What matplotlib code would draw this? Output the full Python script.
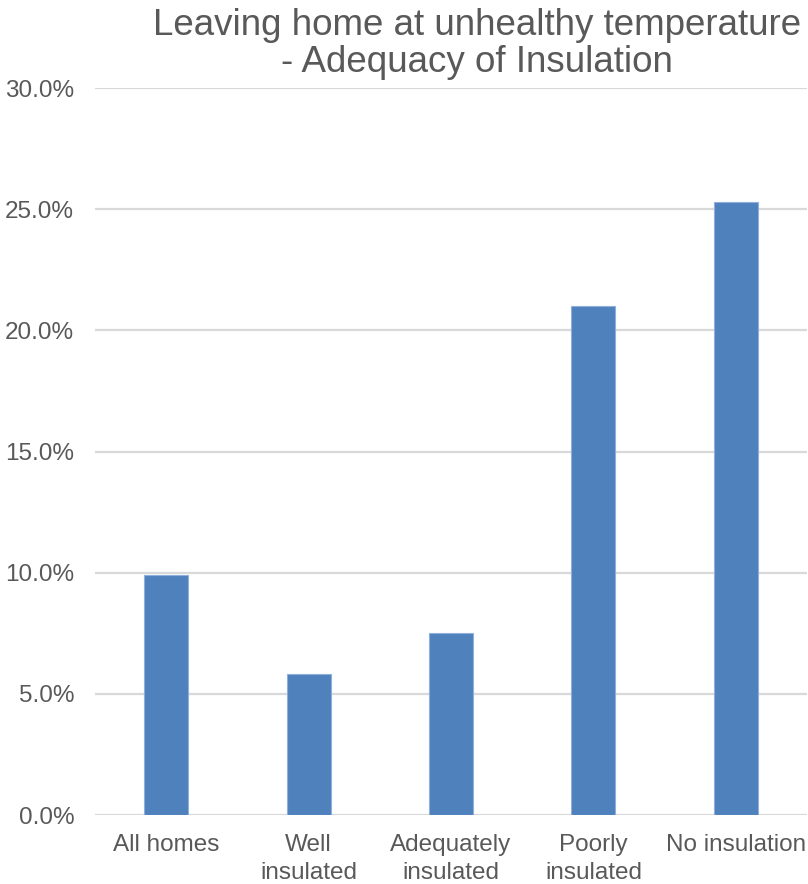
import matplotlib
matplotlib.use("Agg")
import matplotlib.pyplot as plt
from matplotlib.ticker import FuncFormatter, MultipleLocator

plt.rcParams['font.family'] = ['Liberation Sans', 'DejaVu Sans']

categories = ["All homes", "Well\ninsulated", "Adequately\ninsulated", "Poorly\ninsulated", "No insulation"]
values = [9.9, 5.8, 7.5, 21.0, 25.3]
title = "Leaving home at unhealthy temperature\n- Adequacy of Insulation"

text_color = "#595959"
bar_color = "#4f81bd"
grid_color = "#d9d9d9"

fig = plt.figure(figsize=(8.08, 8.84), dpi=100)
ax = fig.add_axes([95 / 808, 1 - 815 / 884, 712 / 808, (815 - 88) / 884])

x = list(range(len(categories)))
ax.bar(x, values, width=0.31, color=bar_color, edgecolor="#8fb0dc", linewidth=0.8, zorder=3)

ax.set_xlim(-0.5, 4.5)
ax.set_ylim(0, 30)
ax.yaxis.set_major_locator(MultipleLocator(5))
ax.yaxis.set_major_formatter(FuncFormatter(lambda v, _: f"{v:.1f}%"))
ax.set_xticks(x)
ax.set_xticklabels(categories, linespacing=1.3)

ax.grid(axis="y", color=grid_color, linewidth=1.6, zorder=0)
ax.set_axisbelow(True)
for s in ax.spines.values():
    s.set_visible(False)
ax.tick_params(axis="both", length=0, labelsize=17.5, colors=text_color)
ax.tick_params(axis="y", pad=15)
ax.tick_params(axis="x", pad=14)

fig.text(477 / 808, 1 - 44 / 884, title, ha="center", va="center",
         fontsize=26.5, color=text_color, linespacing=1.08)

fig.savefig("out.png", dpi=100)
